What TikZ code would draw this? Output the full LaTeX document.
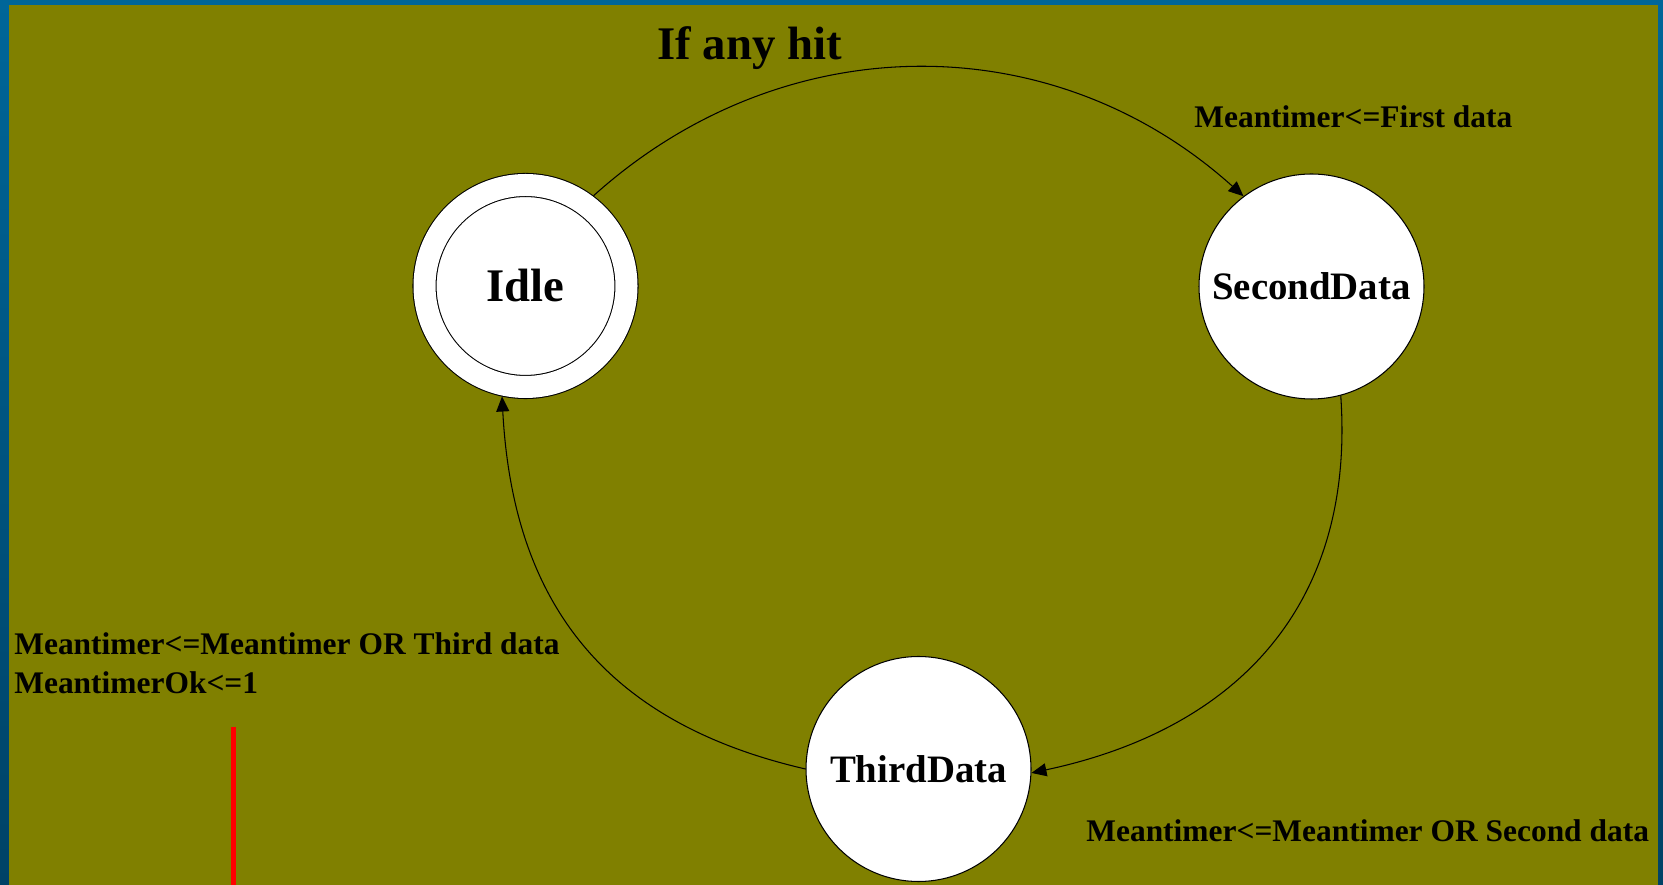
\documentclass[tikz,border=0pt]{standalone}
\usepackage{fontspec}
\setmainfont{Liberation Serif}
\usetikzlibrary{arrows.meta}
\definecolor{olivebg}{RGB}{128,128,0}
\definecolor{frametop}{RGB}{0,102,153}
\definecolor{framebot}{RGB}{0,66,102}

\begin{document}
\begin{tikzpicture}[
    >={Triangle[length=0.3cm, width=0.26cm]},
    statenode/.style={circle, draw, fill=white, line width=0.6pt, minimum size=4.5cm, inner sep=0pt, font=\fontsize{22.1}{26}\selectfont\bfseries},
    idlenode/.style={statenode, minimum size=4.04cm, double, double distance=0.44cm, outer sep=0.24cm, font=\fontsize{26.6}{30}\selectfont\bfseries},
    trans/.style={->, line width=0.6pt},
    cond/.style={inner sep=0pt, anchor=base west, font=\fontsize{17.9}{22.2}\selectfont\bfseries},
    redline/.style={red, line width=0.1cm}
]

% Background and frame
\useasboundingbox (0,0) rectangle (33.26,17.7);
\shade[top color=frametop, bottom color=framebot] (0,0) rectangle (33.26,17.7);
\fill[olivebg] (0.18,0) rectangle (33.16,17.6);

% States
\node[idlenode] (idle) at (10.51,11.98) {Idle};
\node[statenode] (second) at (26.23,11.97) {SecondData};
\node[statenode] (third) at (18.37,2.32) {ThirdData};

% Transitions
\draw[trans] (idle.53) to[out=42, in=138, looseness=1.01] (second.127);
\draw[trans] (second.-75) to[out=-86, in=12, looseness=1.1] (third.-2);
\draw[trans] (third.180) to[out=167, in=-87, looseness=1.1] (idle.258);

% Labels
\node[cond, font=\fontsize{26.6}{30}\selectfont\bfseries] (hit) at (13.14,16.5) {If any hit};
\node[cond] (first) at (23.88,15.14) {Meantimer<=First data};
\node[cond, anchor=north west, align=left] (thirdcond) at (0.28,5.06) {Meantimer<=Meantimer OR Third data\\MeantimerOk<=1};
\node[cond] (secondcond) at (21.72,0.87) {Meantimer<=Meantimer OR Second data};

% Red mark
\coordinate (redtop) at (4.66,3.16);
\coordinate (redbot) at (4.66,0);
\draw[redline] (redtop) -- (redbot);

\end{tikzpicture}
\end{document}
